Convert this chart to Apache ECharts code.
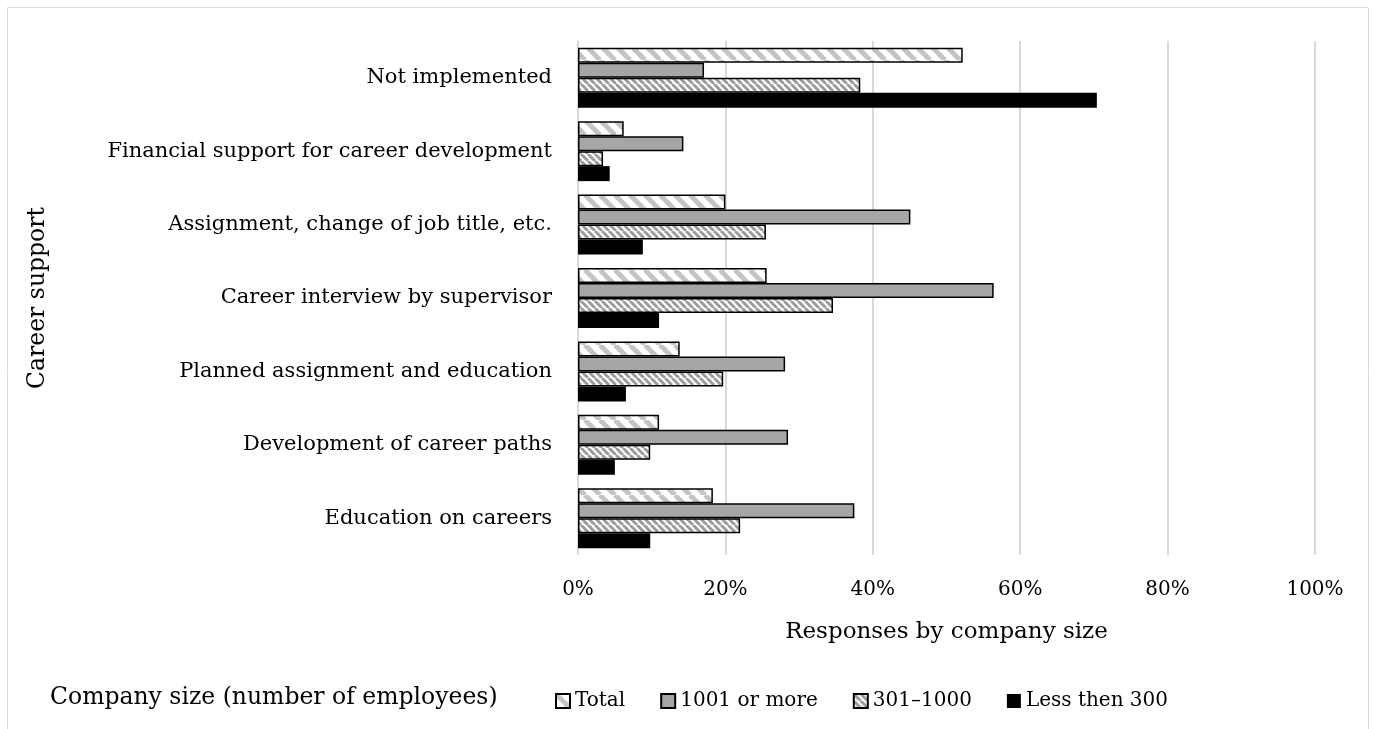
<!DOCTYPE html>
<html>
<head>
<meta charset="utf-8">
<script src="https://cdn.jsdelivr.net/npm/echarts@6/dist/echarts.min.js"></script>
<style>
html,body{margin:0;padding:0;background:#fff;}
#chart{width:1375px;height:729px;}
</style>
</head>
<body>
<div id="chart"></div>
<script>
const categories = [
  'Not implemented',
  'Financial support for career development',
  'Assignment, change of job title, etc.',
  'Career interview by supervisor',
  'Planned assignment and education',
  'Development of career paths',
  'Education on careers'
];
const seriesNames = ['Total', '1001 or more', '301\u20131000', 'Less then 300'];
const totalValues = [52.2, 6.2, 20.0, 25.6, 13.8, 11.0, 18.3];
const bigValues = [17.1, 14.3, 45.1, 56.4, 28.1, 28.5, 37.5];
const midValues = [38.3, 3.4, 25.5, 34.6, 19.7, 9.8, 22.0];
const smallValues = [70.4, 4.3, 8.8, 11.0, 6.5, 5.0, 9.8];
const xTicks = [0, 20, 40, 60, 80, 100];

function stripe(period, width, color) {
  const c = document.createElement('canvas');
  c.width = period; c.height = period;
  const ctx = c.getContext('2d');
  ctx.fillStyle = '#ffffff';
  ctx.fillRect(0, 0, period, period);
  ctx.strokeStyle = color;
  ctx.lineWidth = width;
  for (let k = -1; k <= 1; k++) {
    ctx.beginPath();
    ctx.moveTo(k * period, 0);
    ctx.lineTo(k * period + period, period);
    ctx.stroke();
  }
  return { image: c, repeat: 'repeat' };
}

const FONT = 'DejaVu Serif';
const chart = echarts.init(document.getElementById('chart'), null, { renderer: 'canvas' });

function bar(name, data, style) {
  return {
    name: name,
    type: 'bar',
    data: data,
    barWidth: 15,
    barGap: '0%',
    itemStyle: style,
    emphasis: { disabled: true },
    animation: false
  };
}

chart.setOption({
  backgroundColor: '#ffffff',
  animation: false,
  textStyle: { fontFamily: FONT, color: '#000' },
  grid: { left: 578, right: 60, top: 41, bottom: 174, containLabel: false },
  xAxis: {
    type: 'value',
    min: xTicks[0],
    max: xTicks[xTicks.length - 1],
    interval: 20,
    axisLine: { show: false },
    axisTick: { show: false },
    splitLine: { show: true, lineStyle: { color: '#d9d9d9', width: 2 } },
    axisLabel: { formatter: '{value}%', fontFamily: FONT, fontSize: 20, color: '#000', margin: 25 },
    name: 'Responses by company size',
    nameLocation: 'middle',
    nameGap: 66,
    nameTextStyle: { fontFamily: FONT, fontSize: 23, color: '#000' }
  },
  yAxis: {
    type: 'category',
    inverse: true,
    data: categories,
    axisLine: { show: false },
    axisTick: { show: false },
    axisLabel: { fontFamily: FONT, fontSize: 21, color: '#000', margin: 26 },
    name: 'Career support',
    nameLocation: 'middle',
    nameRotate: 90,
    nameGap: 528,
    nameTextStyle: { fontFamily: FONT, fontSize: 23.5, color: '#000' }
  },
  legend: {
    data: seriesNames,
    left: 550,
    top: 686,
    icon: 'rect',
    itemWidth: 14,
    itemHeight: 14,
    itemGap: 35,
    textStyle: { fontFamily: FONT, fontSize: 20, color: '#000' },
    selectedMode: false
  },
  graphic: [
    {
      type: 'rect',
      silent: true,
      shape: { x: 7.5, y: 7.5, width: 1361, height: 760 },
      style: { fill: 'none', stroke: '#d9d9d9', lineWidth: 1 }
    },
    {
      type: 'text',
      silent: true,
      left: 50,
      top: 686,
      style: { text: 'Company size (number of employees)', font: '23.5px "DejaVu Serif"', fill: '#000' }
    }
  ],
  series: [
    bar(seriesNames[0], totalValues, { color: stripe(15, 5, '#c4c4c4'), borderColor: '#000', borderWidth: 1.5 }),
    bar(seriesNames[1], bigValues, { color: '#a6a6a6', borderColor: '#000', borderWidth: 1.5 }),
    bar(seriesNames[2], midValues, { color: stripe(7, 3, '#9c9c9c'), borderColor: '#000', borderWidth: 1.5 }),
    bar(seriesNames[3], smallValues, { color: '#000' })
  ]
});
</script>
</body>
</html>
